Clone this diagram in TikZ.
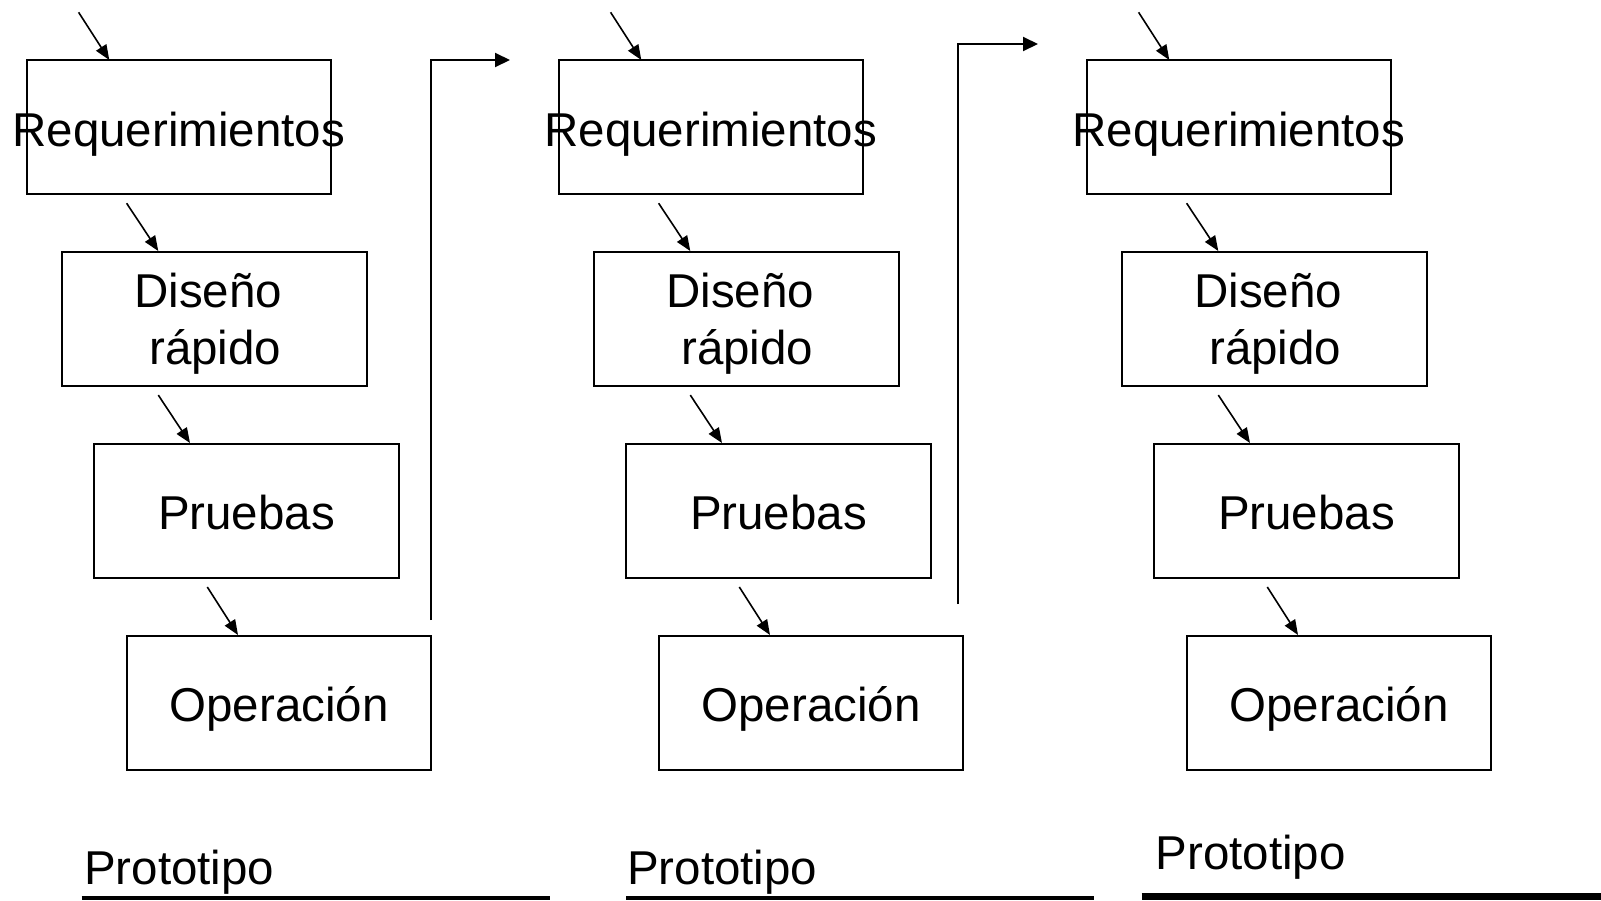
\documentclass[tikz,border=0pt]{standalone}
\usepackage{fontspec}
\setmainfont{Liberation Sans}
\usetikzlibrary{calc,arrows.meta}
\begin{document}
\begin{tikzpicture}[x=1pt,y=-1pt,
  box/.style={draw, line width=2pt, minimum width=304.5pt, minimum height=134pt, inner sep=0pt},
  lbl/.style={font=\fontsize{47.5}{57.5}\selectfont, inner sep=0pt, anchor=base},
  sarrow/.style={line width=1.6pt, -{Triangle[length=15pt,width=12pt]}},
  larrow/.style={line width=2pt, -{Triangle[length=15pt,width=14pt]}},
  rulestyle/.style={line width=4pt}
]
\useasboundingbox (0,0) rectangle (1601,900);

\foreach \i/\dx in {1/0, 2/532, 3/1060} {
  \node[box] (req\i) at (178.75+\dx,127) {};
  \node[box] (dis\i) at (214.25+\dx,318.5) {};
  \node[box] (pru\i) at (246.5+\dx,510.5) {};
  \node[box] (ope\i) at (279+\dx,702.5) {};
  \node[lbl] (treq\i) at ($(req\i.center)+(0,19)$) {Requerimientos};
  \node[lbl] (tdis\i) at ($(dis\i.center)+(-6,-11)$) {Diseño};
  \node[lbl] (trap\i) at ($(dis\i.center)+(1,46)$) {rápido};
  \node[lbl] (tpru\i) at ($(pru\i.center)+(0,19)$) {Pruebas};
  \node[lbl] (tope\i) at ($(ope\i.center)+(0,19)$) {Operación};
  \coordinate (sa\i) at (78.6+\dx,12.3);
  \coordinate (ea\i) at (109.3+\dx,60);
  \coordinate (sb\i) at (126.6+\dx,203.2);
  \coordinate (eb\i) at (158.3+\dx,251);
  \coordinate (sc\i) at (158.3+\dx,395.1);
  \coordinate (ec\i) at (190+\dx,443);
  \coordinate (sd\i) at (207.3+\dx,587);
  \coordinate (ed\i) at (238+\dx,635);
  \draw[sarrow] (sa\i) -- (ea\i);
  \draw[sarrow] (sb\i) -- (eb\i);
  \draw[sarrow] (sc\i) -- (ec\i);
  \draw[sarrow] (sd\i) -- (ed\i);
}

% connectors between prototypes
\coordinate (k1a) at (431,620);
\coordinate (k1b) at (431,60);
\coordinate (k1c) at (510,60);
\draw[larrow] (k1a) -- (k1b) -- (k1c);
\coordinate (k2a) at (958,604);
\coordinate (k2b) at (958,44);
\coordinate (k2c) at (1038,44);
\draw[larrow] (k2a) -- (k2b) -- (k2c);

% Prototipo labels and rules
\node[lbl, anchor=base west] (p1) at (84,884) {Prototipo};
\node[lbl, anchor=base west] (p2) at (627,884) {Prototipo};
\node[lbl, anchor=base west] (p3) at (1155.5,869) {Prototipo};
\coordinate (r1a) at (81.7,898);
\coordinate (r1b) at (550.3,898);
\coordinate (r2a) at (626,898);
\coordinate (r2b) at (1093.5,898);
\coordinate (r3a) at (1141.5,896.5);
\coordinate (r3b) at (1601,896.5);
\draw[rulestyle] (r1a) -- (r1b);
\draw[rulestyle] (r2a) -- (r2b);
\draw[rulestyle, line width=7pt] (r3a) -- (r3b);
\end{tikzpicture}
\end{document}
